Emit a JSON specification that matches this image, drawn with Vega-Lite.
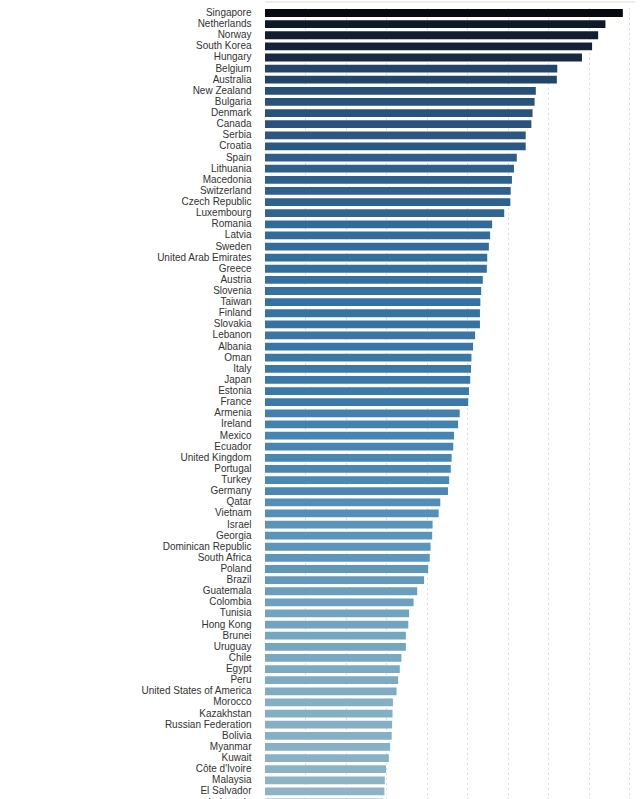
{
  "$schema": "https://vega.github.io/schema/vega-lite/v6.json",
  "autosize": {"type": "none"},
  "padding": {"left": 265, "top": 7.44, "right": 0, "bottom": 0},
  "width": 370.4,
  "height": 800.64,
  "background": "white",
  "config": {"view": {"stroke": null}},
  "data": {"values": [
    {"country": "Singapore", "value": 8.84},
    {"country": "Netherlands", "value": 8.41},
    {"country": "Norway", "value": 8.23},
    {"country": "South Korea", "value": 8.08},
    {"country": "Hungary", "value": 7.83},
    {"country": "Belgium", "value": 7.22},
    {"country": "Australia", "value": 7.21},
    {"country": "New Zealand", "value": 6.69},
    {"country": "Bulgaria", "value": 6.66},
    {"country": "Denmark", "value": 6.61},
    {"country": "Canada", "value": 6.58},
    {"country": "Serbia", "value": 6.44},
    {"country": "Croatia", "value": 6.44},
    {"country": "Spain", "value": 6.22},
    {"country": "Lithuania", "value": 6.15},
    {"country": "Macedonia", "value": 6.10},
    {"country": "Switzerland", "value": 6.07},
    {"country": "Czech Republic", "value": 6.06},
    {"country": "Luxembourg", "value": 5.91},
    {"country": "Romania", "value": 5.61},
    {"country": "Latvia", "value": 5.56},
    {"country": "Sweden", "value": 5.53},
    {"country": "United Arab Emirates", "value": 5.49},
    {"country": "Greece", "value": 5.48},
    {"country": "Austria", "value": 5.38},
    {"country": "Slovenia", "value": 5.34},
    {"country": "Taiwan", "value": 5.32},
    {"country": "Finland", "value": 5.31},
    {"country": "Slovakia", "value": 5.31},
    {"country": "Lebanon", "value": 5.19},
    {"country": "Albania", "value": 5.14},
    {"country": "Oman", "value": 5.10},
    {"country": "Italy", "value": 5.09},
    {"country": "Japan", "value": 5.07},
    {"country": "Estonia", "value": 5.04},
    {"country": "France", "value": 5.02},
    {"country": "Armenia", "value": 4.81},
    {"country": "Ireland", "value": 4.77},
    {"country": "Mexico", "value": 4.67},
    {"country": "Ecuador", "value": 4.65},
    {"country": "United Kingdom", "value": 4.61},
    {"country": "Portugal", "value": 4.59},
    {"country": "Turkey", "value": 4.55},
    {"country": "Germany", "value": 4.52},
    {"country": "Qatar", "value": 4.33},
    {"country": "Vietnam", "value": 4.29},
    {"country": "Israel", "value": 4.14},
    {"country": "Georgia", "value": 4.13},
    {"country": "Dominican Republic", "value": 4.09},
    {"country": "South Africa", "value": 4.07},
    {"country": "Poland", "value": 4.03},
    {"country": "Brazil", "value": 3.93},
    {"country": "Guatemala", "value": 3.76},
    {"country": "Colombia", "value": 3.67},
    {"country": "Tunisia", "value": 3.56},
    {"country": "Hong Kong", "value": 3.54},
    {"country": "Brunei", "value": 3.48},
    {"country": "Uruguay", "value": 3.48},
    {"country": "Chile", "value": 3.37},
    {"country": "Egypt", "value": 3.33},
    {"country": "Peru", "value": 3.29},
    {"country": "United States of America", "value": 3.25},
    {"country": "Morocco", "value": 3.16},
    {"country": "Kazakhstan", "value": 3.15},
    {"country": "Russian Federation", "value": 3.14},
    {"country": "Bolivia", "value": 3.13},
    {"country": "Myanmar", "value": 3.09},
    {"country": "Kuwait", "value": 3.06},
    {"country": "Côte d'Ivoire", "value": 2.99},
    {"country": "Malaysia", "value": 2.96},
    {"country": "El Salvador", "value": 2.95},
    {"country": "Indonesia", "value": 2.91}
  ]},
  "mark": {"type": "bar"},
  "encoding": {
    "y": {
      "field": "country",
      "type": "nominal",
      "sort": null,
      "scale": {"paddingInner": 0.3, "paddingOuter": 0.15},
      "axis": {
        "title": null,
        "domain": false,
        "ticks": false,
        "labelPadding": 14,
        "labelFont": "Liberation Sans",
        "labelFontSize": 10,
        "labelColor": "#333333",
        "labelLimit": 300
      }
    },
    "x": {
      "field": "value",
      "type": "quantitative",
      "scale": {"domain": [0, 9.15], "nice": false, "zero": true},
      "axis": {
        "orient": "top",
        "title": null,
        "labels": false,
        "ticks": false,
        "offset": 6,
        "domain": true,
        "domainColor": "#dddddd",
        "domainWidth": 1,
        "grid": true,
        "gridColor": "#dddddd",
        "gridDash": [2, 3],
        "gridWidth": 1,
        "values": [1, 2, 3, 4, 5, 6, 7, 8, 9]
      }
    },
    "color": {
      "field": "value",
      "type": "quantitative",
      "legend": null,
      "scale": {
        "domain": [2.9, 3.5, 4.1, 4.6, 5.0, 5.5, 6.2, 6.7, 7.2, 7.8, 8.4, 8.84],
        "range": ["#8fb5c7", "#74a5c0", "#5c95ba", "#4986b2", "#3c7aab", "#336d9c", "#2d5e89", "#28507a", "#22456b", "#182a42", "#0f1929", "#070910"]
      }
    }
  }
}
